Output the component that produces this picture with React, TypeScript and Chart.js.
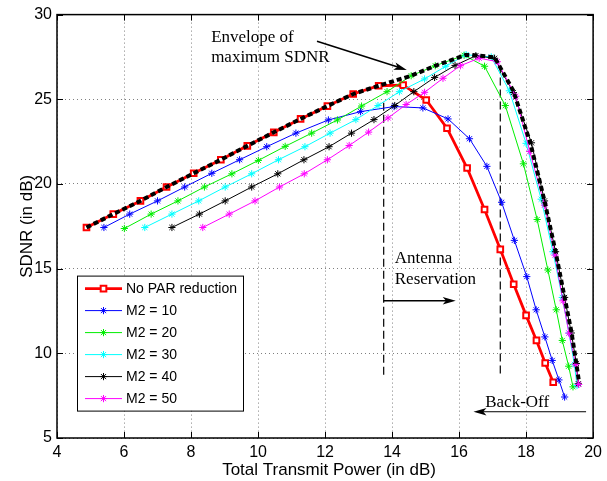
import React, { useEffect, useRef } from 'react';
import { Chart, registerables } from 'chart.js';
import { drawPoint } from 'chart.js/helpers';

Chart.register(...registerables);

// ---------- data ----------
const noParX = [4.88, 5.68, 6.49, 7.27, 8.08, 8.89, 9.68, 10.47, 11.27, 12.07, 12.84, 13.6, 14.33, 15.02, 15.64, 16.24, 16.76, 17.23, 17.63, 18.0, 18.31, 18.57, 18.81];
const noParY = [17.43, 18.22, 19.0, 19.82, 20.63, 21.43, 22.25, 23.05, 23.84, 24.6, 25.31, 25.8, 25.84, 24.96, 23.29, 20.94, 18.49, 16.14, 14.08, 12.24, 10.76, 9.43, 8.29];

const m10X = [5.4, 6.17, 7.0, 7.81, 8.62, 9.45, 10.26, 11.13, 12.1, 13.06, 14.06, 14.92, 15.67, 16.31, 16.83, 17.27, 17.65, 18.02, 18.3, 18.56, 18.78, 18.98, 19.15];
const m10Y = [17.43, 18.22, 19.0, 19.82, 20.63, 21.43, 22.2, 23.0, 23.78, 24.27, 24.57, 24.49, 23.84, 22.67, 21.04, 18.92, 16.67, 14.53, 12.57, 10.97, 9.58, 8.43, 7.42];

const m20X = [6.01, 6.81, 7.61, 8.4, 9.22, 10.01, 10.81, 11.6, 12.37, 13.09, 13.85, 14.57, 15.29, 16.15, 16.76, 17.38, 17.92, 18.33, 18.65, 18.9, 19.08, 19.27, 19.4];
const m20Y = [17.37, 18.22, 19.0, 19.82, 20.6, 21.39, 22.22, 23.0, 23.78, 24.6, 25.45, 26.39, 26.98, 27.6, 26.95, 24.63, 21.19, 17.9, 14.92, 12.57, 10.76, 9.24, 8.02];

const m30X = [6.62, 7.43, 8.23, 9.02, 9.81, 10.61, 11.4, 12.15, 12.92, 13.58, 14.22, 14.97, 15.6, 16.21, 16.96, 17.5, 18.0, 18.45, 18.8, 19.08, 19.28, 19.44, 19.52];
const m30Y = [17.43, 18.22, 19.0, 19.82, 20.6, 21.43, 22.2, 23.0, 23.8, 24.63, 25.45, 26.2, 26.95, 27.63, 27.5, 25.5, 22.4, 19.1, 16.0, 13.3, 11.2, 9.35, 8.1];

const m40X = [7.43, 8.25, 9.02, 9.81, 10.59, 11.37, 12.12, 12.79, 13.46, 14.08, 14.65, 15.27, 15.88, 16.5, 17.06, 17.62, 18.16, 18.55, 18.88, 19.15, 19.35, 19.5, 19.56];
const m40Y = [17.43, 18.22, 19.0, 19.82, 20.6, 21.43, 22.2, 23.0, 23.8, 24.63, 25.45, 26.29, 27.0, 27.57, 27.42, 25.4, 22.43, 19.0, 16.0, 13.3, 11.2, 9.4, 8.2];

const m50X = [8.35, 9.14, 9.91, 10.64, 11.38, 12.07, 12.72, 13.3, 13.88, 14.42, 14.97, 15.52, 16.04, 16.6, 17.14, 17.69, 18.11, 18.55, 18.86, 19.1, 19.28, 19.48, 19.57];
const m50Y = [17.43, 18.22, 19.0, 19.82, 20.6, 21.43, 22.27, 23.06, 23.9, 24.69, 25.41, 26.24, 26.98, 27.43, 27.22, 25.18, 21.92, 18.75, 15.8, 13.1, 11.19, 9.33, 8.16];

const envX = [4.88, 5.68, 6.49, 7.27, 8.08, 8.89, 9.68, 10.47, 11.27, 12.07, 12.84, 13.6, 14.57, 15.29, 16.2, 16.5, 17.06, 17.62, 18.13, 18.55, 18.88, 19.15, 19.35, 19.5, 19.58];
const envY = [17.43, 18.22, 19.0, 19.82, 20.63, 21.43, 22.25, 23.05, 23.84, 24.6, 25.31, 25.8, 26.39, 26.98, 27.62, 27.6, 27.47, 25.5, 22.4, 19.0, 16.0, 13.3, 11.3, 9.4, 8.3];

const guide1X = [13.75, 13.75];
const guide1Y = [24.8, 8.55];
const guide2X = [17.23, 17.23];
const guide2Y = [27.0, 8.65];

const seriesLabels = ['No PAR reduction', 'M2 = 10', 'M2 = 20', 'M2 = 30', 'M2 = 40', 'M2 = 50'];

const xMin = 4, xMax = 20, xStep = 2;
const yMin = 5, yMax = 30, yStep = 5;

const xTitle = 'Total Transmit Power (in dB)';
const yTitle = 'SDNR (in dB)';

// annotation anchors (data units)
const envText = ['Envelope of', 'maximum SDNR'];
const envTextPos = { x: 8.6, y1: 28.37, y2: 27.2 };
const envArrow = { x1: 11.76, y1: 28.43, x2: 14.44, y2: 26.73 };
const antText = ['Antenna', 'Reservation'];
const antTextPos = { x: 14.08, y1: 15.36, y2: 14.09 };
const antArrow = { x1: 13.75, y1: 13.1, x2: 15.9, y2: 13.1 };
const boText = 'Back-Off';
const boTextPos = { x: 16.78, y: 6.84 };
const boArrow = { x1: 19.79, y1: 6.55, x2: 16.43, y2: 6.55 };

const zip = (xs: number[], ys: number[]) => xs.map((x, i) => ({ x, y: ys[i] }));

const SANS = '"Liberation Sans", Arial, Helvetica, sans-serif';
const SERIF = '"Liberation Serif", "Times New Roman", serif';

function arrow(ctx: CanvasRenderingContext2D, x1: number, y1: number, x2: number, y2: number) {
  const ang = Math.atan2(y2 - y1, x2 - x1);
  const hl = 13, hw = 3.8;
  ctx.beginPath();
  ctx.moveTo(x1, y1);
  ctx.lineTo(x2 - Math.cos(ang) * hl * 0.6, y2 - Math.sin(ang) * hl * 0.6);
  ctx.stroke();
  ctx.beginPath();
  ctx.moveTo(x2, y2);
  ctx.lineTo(x2 - Math.cos(ang) * hl - Math.sin(ang) * hw, y2 - Math.sin(ang) * hl + Math.cos(ang) * hw);
  ctx.lineTo(x2 - Math.cos(ang) * hl * 0.75, y2 - Math.sin(ang) * hl * 0.75);
  ctx.lineTo(x2 - Math.cos(ang) * hl + Math.sin(ang) * hw, y2 - Math.sin(ang) * hl - Math.cos(ang) * hw);
  ctx.closePath();
  ctx.fill();
}

const overlay = {
  id: 'overlay',
  afterDraw(chart: any) {
    const { ctx, chartArea: a } = chart;
    const xs = chart.scales.x, ys = chart.scales.y;
    ctx.save();
    // box
    ctx.strokeStyle = '#000';
    ctx.lineWidth = 1.5;
    ctx.strokeRect(a.left, a.top, a.right - a.left, a.bottom - a.top);
    // inner ticks
    ctx.lineWidth = 1;
    const tl = 6;
    ctx.beginPath();
    xs.ticks.forEach((t: any) => {
      const p = Math.round(xs.getPixelForValue(t.value)) + 0.5;
      ctx.moveTo(p, a.bottom); ctx.lineTo(p, a.bottom - tl);
      ctx.moveTo(p, a.top); ctx.lineTo(p, a.top + tl);
    });
    ys.ticks.forEach((t: any) => {
      const p = Math.round(ys.getPixelForValue(t.value)) + 0.5;
      ctx.moveTo(a.left, p); ctx.lineTo(a.left + tl, p);
      ctx.moveTo(a.right, p); ctx.lineTo(a.right - tl, p);
    });
    ctx.stroke();

    // axis titles
    ctx.fillStyle = '#000';
    ctx.font = `17px ${SANS}`;
    ctx.textAlign = 'center';
    ctx.textBaseline = 'alphabetic';
    ctx.fillText(xTitle, (a.left + a.right) / 2 + 4, 475);
    ctx.save();
    ctx.translate(32, (a.top + a.bottom) / 2);
    ctx.rotate(-Math.PI / 2);
    ctx.fillText(yTitle, 0, 0);
    ctx.restore();

    // annotations
    const X = (v: number) => xs.getPixelForValue(v);
    const Y = (v: number) => ys.getPixelForValue(v);
    ctx.font = `17px ${SERIF}`;
    ctx.textAlign = 'left';
    ctx.fillText(envText[0], X(envTextPos.x), Y(envTextPos.y1));
    ctx.fillText(envText[1], X(envTextPos.x), Y(envTextPos.y2));
    ctx.fillText(antText[0], X(antTextPos.x), Y(antTextPos.y1));
    ctx.fillText(antText[1], X(antTextPos.x), Y(antTextPos.y2));
    ctx.fillText(boText, X(boTextPos.x), Y(boTextPos.y));
    ctx.strokeStyle = '#000';
    ctx.lineWidth = 1.6;
    arrow(ctx, X(envArrow.x1), Y(envArrow.y1), X(envArrow.x2), Y(envArrow.y2));
    arrow(ctx, X(antArrow.x1), Y(antArrow.y1), X(antArrow.x2), Y(antArrow.y2));
    ctx.lineWidth = 1;
    arrow(ctx, X(boArrow.x1), Y(boArrow.y1), X(boArrow.x2), Y(boArrow.y2));

    // legend
    const lx = a.left + 20, ly = a.top + 261, lw = 166, lh = 135;
    ctx.fillStyle = '#fff';
    ctx.fillRect(lx, ly, lw, lh);
    ctx.strokeStyle = '#000';
    ctx.lineWidth = 1;
    ctx.strokeRect(lx + 0.5, ly + 0.5, lw, lh);
    ctx.font = `14px ${SANS}`;
    ctx.textBaseline = 'middle';
    for (let i = 0; i < seriesLabels.length; i++) {
      const ds = chart.data.datasets[i];
      const ry = ly + 13 + i * 22;
      ctx.strokeStyle = ds.borderColor;
      ctx.lineWidth = ds.borderWidth;
      ctx.setLineDash([]);
      ctx.beginPath();
      ctx.moveTo(lx + 8, ry); ctx.lineTo(lx + 45, ry);
      ctx.stroke();
      ctx.fillStyle = ds.pointBackgroundColor;
      ctx.strokeStyle = ds.pointBorderColor;
      ctx.lineWidth = ds.pointBorderWidth;
      drawPoint(ctx, { pointStyle: ds.pointStyle, rotation: 0, radius: ds.pointRadius, borderWidth: ds.pointBorderWidth } as any, lx + 26.5, ry);
      ctx.fillStyle = '#000';
      ctx.fillText(seriesLabels[i], lx + 49, ry + 1);
    }
    ctx.restore();
  },
};

function star(label: string, xs: number[], ys: number[], color: string, order: number) {
  return {
    label,
    data: zip(xs, ys),
    showLine: true,
    borderColor: color,
    backgroundColor: color,
    borderWidth: 1,
    pointStyle: 'star',
    pointRadius: 3.6,
    pointBorderWidth: 1,
    pointBorderColor: color,
    pointBackgroundColor: color,
    order,
  };
}

export default function App() {
  const ref = useRef<HTMLCanvasElement>(null);
  useEffect(() => {
    if (!ref.current) return;
    const chart = new Chart(ref.current, {
      type: 'scatter',
      data: {
        datasets: [
          {
            label: seriesLabels[0],
            data: zip(noParX, noParY),
            showLine: true,
            borderColor: '#ff0000',
            backgroundColor: '#ff0000',
            borderWidth: 2.8,
            pointStyle: 'rect',
            pointRadius: 4,
            pointBorderWidth: 2,
            pointBorderColor: '#ff0000',
            pointBackgroundColor: '#ffffff',
            order: 6,
          },
          star(seriesLabels[1], m10X, m10Y, '#0000ff', 5),
          star(seriesLabels[2], m20X, m20Y, '#00ee00', 4),
          star(seriesLabels[3], m30X, m30Y, '#00ffff', 3),
          star(seriesLabels[4], m40X, m40Y, '#000000', 2),
          star(seriesLabels[5], m50X, m50Y, '#ff00ff', 1),
          {
            label: 'Envelope',
            data: zip(envX, envY),
            showLine: true,
            borderColor: '#000',
            borderWidth: 4,
            borderDash: [5, 3],
            pointRadius: 0,
            order: 0,
          },
          {
            label: 'guide1',
            data: zip(guide1X, guide1Y),
            showLine: true,
            borderColor: '#000',
            borderWidth: 1.2,
            borderDash: [8, 4],
            pointRadius: 0,
            order: 7,
          },
          {
            label: 'guide2',
            data: zip(guide2X, guide2Y),
            showLine: true,
            borderColor: '#000',
            borderWidth: 1.2,
            borderDash: [8, 4],
            pointRadius: 0,
            order: 7,
          },
        ] as any,
      },
      options: {
        responsive: false,
        animation: false,
        devicePixelRatio: 1,
        layout: { padding: { top: 12, right: 12, left: 0, bottom: 0 } },
        plugins: { legend: { display: false }, tooltip: { enabled: false } },
        scales: {
          x: {
            type: 'linear',
            min: xMin,
            max: xMax,
            ticks: { stepSize: xStep, color: '#000', font: { size: 16, family: SANS }, padding: 5, maxRotation: 0 },
            grid: { color: 'rgba(0,0,0,0.5)', drawTicks: false, lineWidth: 1 },
            border: { display: false, dash: [1, 3] },
            afterFit: (s: any) => { s.height = 43; },
          },
          y: {
            type: 'linear',
            min: yMin,
            max: yMax,
            ticks: { stepSize: yStep, color: '#000', font: { size: 16, family: SANS }, padding: 5 },
            grid: { color: 'rgba(0,0,0,0.5)', drawTicks: false, lineWidth: 1 },
            border: { display: false, dash: [1, 3] },
            afterFit: (s: any) => { s.width = 57; },
          },
        },
      } as any,
      plugins: [overlay],
    });
    return () => chart.destroy();
  }, []);
  return (
    <div style={{ position: 'absolute', left: 0, top: 0, width: 607, height: 481, background: '#fff' }}>
      <canvas ref={ref} width={607} height={481} style={{ width: 607, height: 481, display: 'block' }} />
    </div>
  );
}
